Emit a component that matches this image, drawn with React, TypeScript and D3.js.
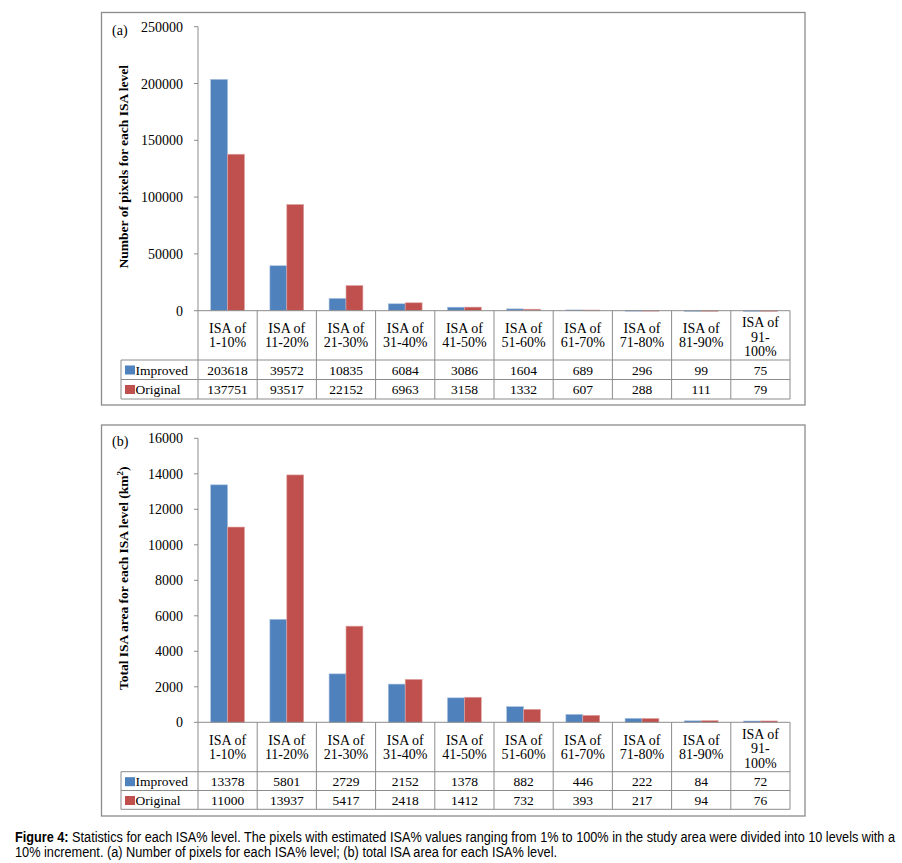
import { scaleBand, scaleLinear } from "d3";

const categories = ["1-10%", "11-20%", "21-30%", "31-40%", "41-50%", "51-60%", "61-70%", "71-80%", "81-90%", "91-100%"];
const categoryLines = [
  ["ISA of", "1-10%"],
  ["ISA of", "11-20%"],
  ["ISA of", "21-30%"],
  ["ISA of", "31-40%"],
  ["ISA of", "41-50%"],
  ["ISA of", "51-60%"],
  ["ISA of", "61-70%"],
  ["ISA of", "71-80%"],
  ["ISA of", "81-90%"],
  ["ISA of", "91-", "100%"],
];
const seriesNames = ["Improved", "Original"];
const seriesColors = ["#4f81bd", "#c0504d"];

const improvedPixels = [203618, 39572, 10835, 6084, 3086, 1604, 689, 296, 99, 75];
const originalPixels = [137751, 93517, 22152, 6963, 3158, 1332, 607, 288, 111, 79];
const improvedArea = [13378, 5801, 2729, 2152, 1378, 882, 446, 222, 84, 72];
const originalArea = [11000, 13937, 5417, 2418, 1412, 732, 393, 217, 94, 76];

const SERIF = '"Liberation Serif", "Times New Roman", serif';
const GRID = "#8c8c8c";

type PanelProps = {
  tag: string;
  title: React.ReactNode;
  series: number[][];
  max: number;
  tickCount: number;
  box: [number, number]; // outer frame top/bottom
  yTop: number;
  yZero: number;
  catBottom: number;
  row1: number;
  row2: number;
};

function Panel({ tag, title, series, max, tickCount, box, yTop, yZero, catBottom, row1, row2 }: PanelProps) {
  const left = 198;
  const right = 790;
  const legendLeft = 121;
  const x = scaleBand<string>().domain(categories).range([left, right]);
  const inner = scaleBand<string>().domain(seriesNames).range([0, x.bandwidth()]).paddingOuter(0.75);
  const y = scaleLinear().domain([0, max]).range([yZero, yTop]);
  const ticks = y.ticks(tickCount);
  const rowMid = [(catBottom + row1) / 2, (row1 + row2) / 2];
  const rowEdges = [catBottom, row1, row2];

  return (
    <g>
      <rect x={101.5} y={box[0]} width={703.5} height={box[1] - box[0]} fill="#fff" stroke={GRID} strokeWidth={1.3} />
      <text x={112} y={yTop + 8} fontSize={14} fontFamily={SERIF}>
        {tag}
      </text>
      {/* y axis */}
      <line x1={left} x2={left} y1={yTop} y2={yZero} stroke={GRID} />
      {ticks.map((t) => (
        <g key={t}>
          <line x1={left - 4} x2={left} y1={y(t)} y2={y(t)} stroke={GRID} />
          <text x={183} y={y(t) + 5} textAnchor="end" fontSize={14} fontFamily={SERIF}>
            {t}
          </text>
        </g>
      ))}
      <text
        transform={`translate(128,${(yTop + yZero) / 2 - 2}) rotate(-90)`}
        textAnchor="middle"
        fontSize={13.5}
        fontWeight="bold"
        fontFamily={SERIF}
      >
        {title}
      </text>
      {/* bars */}
      {categories.map((c, i) => (
        <g key={c}>
          {seriesNames.map((s, k) => {
            const v = series[k][i];
            const top = y(v);
            return (
              <rect
                key={s}
                x={(x(c) ?? 0) + (inner(s) ?? 0)}
                y={top}
                width={inner.bandwidth()}
                height={Math.max(yZero - top, 0.8)}
                fill={seriesColors[k]}
                stroke={k === 0 ? "#a9c0de" : "#dfa7a6"}
                strokeWidth={0.6}
              />
            );
          })}
        </g>
      ))}
      {/* data table */}
      <g stroke={GRID} strokeWidth={1}>
        <line x1={left} x2={right} y1={yZero} y2={yZero} />
        <line x1={legendLeft} x2={right} y1={catBottom} y2={catBottom} />
        <line x1={legendLeft} x2={right} y1={row1} y2={row1} />
        <line x1={legendLeft} x2={right} y1={row2} y2={row2} />
        <line x1={legendLeft} x2={legendLeft} y1={catBottom} y2={row2} />
        {categories.map((c) => (
          <line key={c} x1={x(c) ?? 0} x2={x(c) ?? 0} y1={yZero} y2={row2} />
        ))}
        <line x1={right} x2={right} y1={yZero} y2={row2} />
      </g>
      {categories.map((c, i) => {
        const lines = categoryLines[i];
        const mid = (yZero + catBottom) / 2 + (lines.length === 3 ? 1.3 : 0);
        const step = lines.length === 3 ? 14.7 : 14;
        const cx = (x(c) ?? 0) + x.bandwidth() / 2;
        return (
          <g key={c}>
            {lines.map((l, j) => (
              <text
                key={j}
                x={cx}
                y={mid + (j - (lines.length - 1) / 2) * step + 5}
                textAnchor="middle"
                fontSize={14}
                fontFamily={SERIF}
              >
                {l}
              </text>
            ))}
            {seriesNames.map((s, k) => (
              <text key={s} x={cx} y={rowMid[k] + 5} textAnchor="middle" fontSize={13.5} fontFamily={SERIF}>
                {series[k][i]}
              </text>
            ))}
          </g>
        );
      })}
      {seriesNames.map((s, k) => (
        <g key={s}>
          <rect x={125} y={rowEdges[k] + 5.5} width={10} height={9} fill={seriesColors[k]} />
          <text x={135.5} y={rowMid[k] + 5} fontSize={13.5} fontFamily={SERIF}>
            {s}
          </text>
        </g>
      ))}
    </g>
  );
}

// caption is set in a narrow sans; squeeze a regular sans horizontally
const NARROW = 0.82;

export default function App() {
  return (
    <svg
      width={902}
      height={863}
      viewBox="0 0 902 863"
      style={{ position: "absolute", left: 0, top: 0, background: "#fff" }}
    >
      <rect width={902} height={863} fill="#fff" />
      <Panel
        tag="(a)"
        title="Number of pixels for each ISA level"
        series={[improvedPixels, originalPixels]}
        max={250000}
        tickCount={5}
        box={[12.5, 405]}
        yTop={26.7}
        yZero={310.7}
        catBottom={360}
        row1={379.5}
        row2={399}
      />
      <Panel
        tag="(b)"
        title={
          <>
            Total ISA area for each ISA level (km
            <tspan fontSize={9} dy={-5}>
              2
            </tspan>
            <tspan dy={5}>)</tspan>
          </>
        }
        series={[improvedArea, originalArea]}
        max={16000}
        tickCount={8}
        box={[425, 816]}
        yTop={438.3}
        yZero={722.3}
        catBottom={771.7}
        row1={790.5}
        row2={809.3}
      />
      <g
        transform={`translate(15,0) scale(${NARROW},1)`}
        fontFamily='"Liberation Sans", Arial, sans-serif'
        fontSize={14}
      >
        <text x={0} y={842.5} textLength={880 / NARROW} lengthAdjust="spacingAndGlyphs">
          <tspan fontWeight="bold">Figure 4:</tspan> Statistics for each ISA% level. The pixels with estimated ISA% values
          ranging from 1% to 100% in the study area were divided into 10 levels with a
        </text>
        <text x={0} y={857.5} textLength={542 / NARROW} lengthAdjust="spacingAndGlyphs">
          10% increment. (a) Number of pixels for each ISA% level; (b) total ISA area for each ISA% level.
        </text>
      </g>
    </svg>
  );
}
